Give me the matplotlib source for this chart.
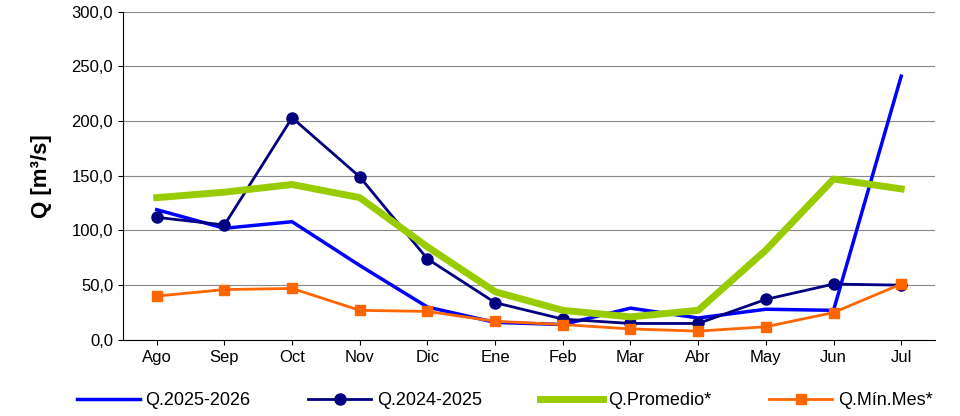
import matplotlib
matplotlib.use("Agg")
from matplotlib import pyplot as plt
from matplotlib.ticker import FuncFormatter

plt.rcParams["font.family"] = ["Liberation Sans", "DejaVu Sans"]

months = ["Ago", "Sep", "Oct", "Nov", "Dic", "Ene", "Feb", "Mar", "Abr", "May", "Jun", "Jul"]
q_2025_2026 = [119, 102, 108, 68, 30, 16, 14, 29, 20, 28, 27, 241]
q_2024_2025 = [112, 105, 203, 149, 74, 34, 19, 15, 15, 37, 51, 50]
q_promedio = [130, 135, 142, 130, 85, 44, 27, 21, 27, 82, 147, 138]
q_min_mes = [40, 46, 47, 27, 26, 17, 14, 10, 8, 12, 25, 51]

fig = plt.figure(figsize=(9.6, 4.16), dpi=100)
ax = fig.add_axes([0.128, 0.183, 0.846, 0.789])
x = range(len(months))

ax.plot(x, q_2025_2026, color="#0000ff", lw=2.5, label="Q.2025-2026")
ax.plot(x, q_2024_2025, color="#000080", lw=2, marker="o", ms=8, label="Q.2024-2025")
ax.plot(x, q_promedio, color="#99cc00", lw=5, label="Q.Promedio*")
ax.plot(x, q_min_mes, color="#ff6600", lw=2, marker="s", ms=7, label="Q.Mín.Mes*")

ax.set_xlim(-0.5, 11.5)
ax.set_ylim(0, 300)
ax.set_yticks(range(0, 301, 50))
ax.yaxis.set_major_formatter(FuncFormatter(lambda v, p: f"{v:.1f}".replace(".", ",")))
ax.set_xticks(list(x))
ax.set_xticklabels(months)
ax.tick_params(labelsize=12)
ax.grid(axis="y", color="#888888", lw=0.8)
ax.set_axisbelow(True)
for s in ["top", "right"]:
    ax.spines[s].set_visible(False)
ax.set_ylabel("Q [m³/s]", fontsize=16, fontweight="bold", labelpad=14)

ax.legend(loc="upper center", bbox_to_anchor=(0.47, -0.11), ncol=4, frameon=False,
          fontsize=13, handlelength=3.5, handletextpad=0.3, columnspacing=3.2)

fig.savefig("out.png", dpi=100)
